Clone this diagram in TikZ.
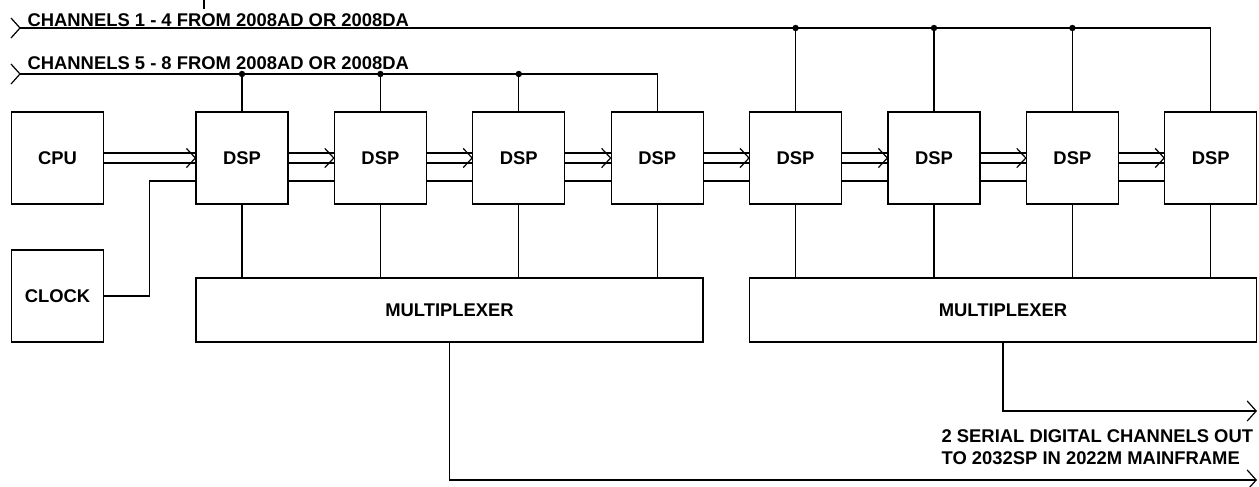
\documentclass[tikz,border=0pt]{standalone}
\usepackage{fontspec}
\setmainfont{Liberation Sans}
\usetikzlibrary{arrows.meta}
\tikzset{
  unit/.style={draw, inner sep=0pt, font=\bfseries\fontsize{9.2}{11}\selectfont},
  dsp/.style={unit, minimum width=46pt, minimum height=46pt},
  mux/.style={unit, minimum width=253.5pt, minimum height=32pt},
  chantext/.style={inner sep=0pt, font=\bfseries\fontsize{9.2}{11}\selectfont},
  junction/.style={circle, fill, inner sep=0pt, minimum size=3.2pt},
  outarrow/.style={-{Straight Barb[length=4.5pt,width=10pt]}},
}
\begin{document}
\begin{tikzpicture}[x=0.5pt, y=-0.5pt, line width=0.6pt]
      \useasboundingbox (0,0) rectangle (1259,487);
      % boxes
      \node[dsp] (cpu) at (57.5,158) {CPU};
      \node[dsp] (clk) at (57.5,296) {CLOCK};
      \foreach \i in {1,...,8}
        \node[dsp] (dsp\i) at ({242+(\i-1)*138.4},158) {DSP};
      \node[mux] (mux1) at (449.5,310) {MULTIPLEXER};
      \node[mux] (mux2) at (1003,310) {MULTIPLEXER};

      % parallel buses
      \foreach \a/\b in {cpu/dsp1,dsp1/dsp2,dsp2/dsp3,dsp3/dsp4,dsp4/dsp5,dsp5/dsp6,dsp6/dsp7,dsp7/dsp8} {
        \draw ([yshift=2.5pt]\a.east) -- ([yshift=2.5pt]\b.west);
        \draw ([yshift=-2.5pt]\a.east) -- ([yshift=-2.5pt]\b.west);
        \draw ([xshift=-4.5pt,yshift=4.8pt]\b.west) -- (\b.west) -- ([xshift=-4.5pt,yshift=-4.8pt]\b.west);
      }

      % clock
      \draw (clk.east) -| ([xshift=-23pt,yshift=-11.5pt]dsp1.west) -- ([yshift=-11.5pt]dsp1.west);
      \foreach \i/\j in {1/2,2/3,3/4,4/5,5/6,6/7,7/8}
        \draw ([yshift=-11.5pt]dsp\i.east) -- ([yshift=-11.5pt]dsp\j.west);

      % to the multiplexers
      \foreach \i in {1,...,4}
        \draw (dsp\i.south) -- (dsp\i.south |- mux1.north);
      \foreach \i in {5,...,8}
        \draw (dsp\i.south) -- (dsp\i.south |- mux2.north);

      % input channels
      \coordinate (stub) at (204,0);
      \draw (stub) -- ++(0,9);
      \coordinate (in1) at (20,28);
      \coordinate (in2) at (20,74);
      \draw ([xshift=-4.5pt,yshift=5pt]in1) -- (in1) -- ([xshift=-4.5pt,yshift=-5pt]in1);
      \draw ([xshift=-4.5pt,yshift=5pt]in2) -- (in2) -- ([xshift=-4.5pt,yshift=-5pt]in2);
      \node[chantext, anchor=base west] (lab1) at (27,26) {CHANNELS 1 - 4 FROM 2008AD OR 2008DA};
      \node[chantext, anchor=base west] (lab2) at (27,69) {CHANNELS 5 - 8 FROM 2008AD OR 2008DA};
      \draw (in1) -- (dsp8.north |- in1) -- (dsp8.north);
      \draw (in2) -- (dsp4.north |- in2) -- (dsp4.north);
      \foreach \i in {1,2,3} {
        \draw (dsp\i.north) -- (dsp\i.north |- in2);
        \node[junction] (j\i) at (dsp\i.north |- in2) {};
      }
      \foreach \i in {5,6,7} {
        \draw (dsp\i.north) -- (dsp\i.north |- in1);
        \node[junction] (j\i) at (dsp\i.north |- in1) {};
      }

      % serial outputs
      \coordinate (out1) at (1257,480);
      \coordinate (out2) at (1257,411);
      \draw[outarrow] (mux1.south) |- (out1);
      \draw[outarrow] (mux2.south) |- (out2);
      \node[chantext, anchor=west, align=left] (outtext) at (941,447) {2 SERIAL DIGITAL CHANNELS OUT\\TO 2032SP IN 2022M MAINFRAME};
    \end{tikzpicture}
\end{document}
